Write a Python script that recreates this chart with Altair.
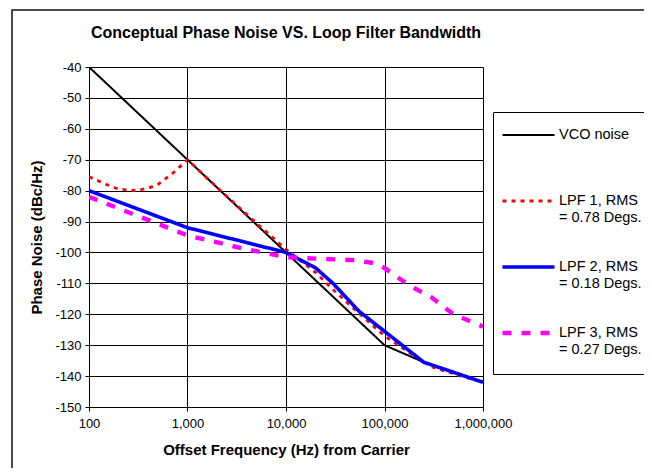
import altair as alt
import pandas as pd

# ---- data ----
SERIES = ["VCO noise", "LPF 1, RMS|= 0.78 Degs.", "LPF 2, RMS|= 0.18 Degs.", "LPF 3, RMS|= 0.27 Degs."]
COLORS = ["#000000", "#FF0000", "#0000FF", "#FF00FF"]
DASHES = [[1, 0], [4, 5], [1, 0], [9, 10]]

VCO_F = [100, 1000, 10000, 100000, 250000, 1000000]
VCO_V = [-40, -70, -100, -130, -135.5, -142]

LPF1_F = [100, 150, 200, 300, 400, 500, 700, 1000, 2000, 5000, 10000, 20000, 30000, 50000, 100000, 200000, 300000, 600000, 1000000]
LPF1_V = [-75.5, -78, -79.5, -80, -79.2, -78, -74.5, -70, -79, -90.5, -99, -106.5, -112, -118.5, -127, -133.5, -137, -140, -142]

LPF2_F = [100, 1000, 10000, 20000, 30000, 55000, 100000, 250000, 1000000]
LPF2_V = [-80, -92, -100, -105, -110, -119, -125.5, -135.5, -142]

LPF3_F = [100, 1000, 4000, 10000, 20000, 50000, 80000, 100000, 150000, 200000, 300000, 500000, 1000000]
LPF3_V = [-82, -94.5, -99, -101.5, -102, -102.5, -103.5, -105, -109, -111.5, -114.5, -120, -124]

X_TICKS = [100, 1000, 10000, 100000, 1000000]
Y_TICKS = list(range(-150, -39, 10))

rows = []
for name, fs, vs in zip(SERIES, [VCO_F, LPF1_F, LPF2_F, LPF3_F], [VCO_V, LPF1_V, LPF2_V, LPF3_V]):
    for f, v in zip(fs, vs):
        rows.append({"series": name, "freq": f, "noise": v})
df = pd.DataFrame(rows)

FONT = "Liberation Sans"

legend = alt.Legend(
    title=" ", titleOrient="bottom", titleFontSize=8, titlePadding=3,
    orient="none", legendX=404, legendY=45, direction="vertical",
    symbolType="stroke", symbolSize=2704, labelFont=FONT, labelFontSize=14.5,
    labelColor="black", labelOffset=2, labelLimit=300, labelBaseline="middle",
    labelExpr="indexof(datum.label, '|') >= 0 ? split(datum.label, '|') : [datum.label, ' ']",
    clipHeight=32, rowPadding=27, padding=7, strokeColor="black", fillColor="white",
)

lines = alt.Chart(df).mark_line(clip=True).encode(
    x=alt.X("freq:Q",
            scale=alt.Scale(type="log", domain=[100, 1000000]),
            axis=alt.Axis(values=X_TICKS, format=",", title="Offset Frequency (Hz) from Carrier")),
    y=alt.Y("noise:Q",
            scale=alt.Scale(domain=[-150, -40], nice=False),
            axis=alt.Axis(values=Y_TICKS, labelExpr="toString(datum.value)", title="Phase Noise (dBc/Hz)")),
    color=alt.Color("series:N", scale=alt.Scale(domain=SERIES, range=COLORS), legend=legend),
    strokeDash=alt.StrokeDash("series:N", scale=alt.Scale(domain=SERIES, range=DASHES), legend=legend),
    strokeWidth=alt.StrokeWidth("series:N", scale=alt.Scale(type="point", domain=SERIES, range=[2, 4.4], padding=0),
                                legend=legend),
)

frame = alt.Chart(pd.DataFrame({"a": [0]})).mark_rect(
    fill=None, stroke="#111111", strokeWidth=1.5
).encode(
    x=alt.value(-77), y=alt.value(-57), x2=alt.value(800), y2=alt.value(800)
)

chart = alt.layer(frame, lines).properties(
    width=394, height=340,
    autosize=alt.AutoSizeParams(type="none"),
    padding={"left": 81, "top": 59, "right": 161, "bottom": 61},
    title=alt.TitleParams(
        "Conceptual Phase Noise VS. Loop Filter Bandwidth",
        font=FONT, fontSize=16, fontWeight="bold", color="black",
        anchor="middle", frame="group", offset=-32,
    ),
).configure_view(stroke=None).configure_axis(
    grid=True, gridColor="#000000", gridWidth=1, gridOpacity=1,
    domainColor="#000000", tickColor="#000000", tickSize=4,
    labelFont=FONT, labelFontSize=13, labelColor="black",
    titleFont=FONT, titleFontSize=15, titleFontWeight="bold", titleColor="black",
).configure_axisX(labelPadding=6, titlePadding=12, labelFlush=False).configure_axisY(
    labelPadding=4, titlePadding=10
)

chart.save("out.html", embed_options={"renderer": "svg", "actions": False})
